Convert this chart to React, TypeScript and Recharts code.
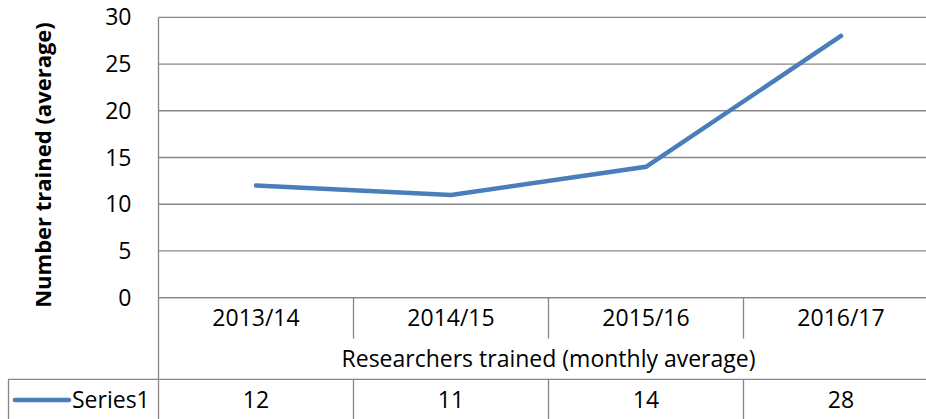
import { LineChart, Line, XAxis, YAxis, CartesianGrid } from "recharts";

const CATEGORIES = ["2013/14", "2014/15", "2015/16", "2016/17"];
const SERIES1 = [12, 11, 14, 28];
const Y_TICKS = [0, 5, 10, 15, 20, 25, 30];

const SERIES_NAME = "Series1";
const X_TITLE = "Researchers trained (monthly average)";
const Y_TITLE = "Number trained (average)";

const data = CATEGORIES.map((cat, i) => ({ cat, value: SERIES1[i] }));

// layout (the plot runs past the right edge of the picture, as in the original)
const CHART_W = 940;
const CHART_H = 419;
const PLOT_LEFT = 158.5;
const PLOT_RIGHT = 938.5;
const PLOT_TOP = 17.3;
const PLOT_BOTTOM = 297.7;
const BAND = (PLOT_RIGHT - PLOT_LEFT) / CATEGORIES.length;
const ROW1_BOTTOM = 338.5;
const ROW2_BOTTOM = 379.3;

const GRID = "#868686";
const BLUE = "#4A7EBB";
const FONT = "'Open Sans', sans-serif";
const FS = 23;

function TableTick(props: any) {
  const { x, payload } = props;
  const i = payload.index;
  const left = x - BAND / 2;
  return (
    <g>
      <line x1={left + BAND} y1={PLOT_BOTTOM} x2={left + BAND} y2={ROW1_BOTTOM} stroke={GRID} strokeWidth={1.3} />
      <line x1={left + BAND} y1={ROW2_BOTTOM} x2={left + BAND} y2={CHART_H} stroke={GRID} strokeWidth={1.3} />
      <text x={x} y={326} textAnchor="middle" fontFamily={FONT} fontSize={FS} fill="#000">
        {payload.value}
      </text>
      <text x={x} y={408} textAnchor="middle" fontFamily={FONT} fontSize={FS} fill="#000">
        {SERIES1[i]}
      </text>
    </g>
  );
}

export default function App() {
  return (
    <div
      style={{
        position: "absolute",
        left: 0,
        top: 0,
        width: 926,
        height: 419,
        overflow: "hidden",
        background: "#fff",
      }}
    >
      <LineChart
        width={CHART_W}
        height={CHART_H}
        data={data}
        margin={{ top: PLOT_TOP, right: CHART_W - PLOT_RIGHT, bottom: 0, left: 0 }}
      >
        <CartesianGrid vertical={false} stroke={GRID} strokeWidth={1.3} />
        <XAxis
          dataKey="cat"
          height={CHART_H - PLOT_BOTTOM}
          padding={{ left: BAND / 2, right: BAND / 2 }}
          axisLine={{ stroke: GRID, strokeWidth: 1.3 }}
          tickLine={false}
          interval={0}
          tick={<TableTick />}
        />
        <YAxis
          width={PLOT_LEFT}
          domain={[0, 30]}
          ticks={Y_TICKS}
          interval={0}
          axisLine={{ stroke: GRID, strokeWidth: 1.3 }}
          tickLine={false}
          tickMargin={21}
          tick={{ fontFamily: FONT, fontSize: FS, fill: "#000" }}
        />
        <Line
          type="linear"
          dataKey="value"
          stroke={BLUE}
          strokeWidth={4.5}
          strokeLinecap="round"
          dot={false}
          isAnimationActive={false}
        />
      </LineChart>
      <svg
        width={926}
        height={419}
        style={{ position: "absolute", left: 0, top: 0, pointerEvents: "none" }}
      >
        {/* table frame */}
        <line x1={PLOT_LEFT} y1={PLOT_BOTTOM} x2={PLOT_LEFT} y2={CHART_H} stroke={GRID} strokeWidth={1.3} />
        <line x1={8} y1={ROW2_BOTTOM} x2={926} y2={ROW2_BOTTOM} stroke={GRID} strokeWidth={1.3} />
        <line x1={8.5} y1={ROW2_BOTTOM} x2={8.5} y2={CHART_H} stroke={GRID} strokeWidth={1.3} />
        <text
          x={(PLOT_LEFT + PLOT_RIGHT) / 2}
          y={367}
          textAnchor="middle"
          fontFamily={FONT}
          fontSize={FS}
          fill="#000"
        >
          {X_TITLE}
        </text>
        {/* legend key */}
        <line x1={15} y1={400} x2={69} y2={400} stroke={BLUE} strokeWidth={4.5} strokeLinecap="round" />
        <text x={72} y={408} fontFamily={FONT} fontSize={FS} fill="#000">
          {SERIES_NAME}
        </text>
        {/* y title */}
        <text
          x={0}
          y={0}
          transform="translate(51,165) rotate(-90)"
          textAnchor="middle"
          fontFamily={FONT}
          fontSize={22}
          fontWeight="bold"
          fill="#000"
        >
          {Y_TITLE}
        </text>
      </svg>
    </div>
  );
}
